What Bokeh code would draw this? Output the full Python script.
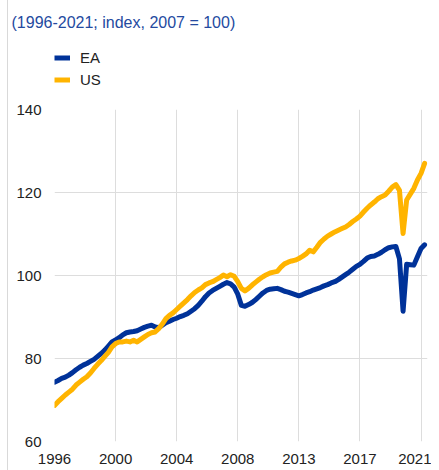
from bokeh.plotting import figure
from bokeh.layouts import column
from bokeh.models import FixedTicker, Legend, LegendItem, Title, Range1d
from bokeh.embed import file_html
from bokeh.resources import INLINE

# Quarterly, 1996Q1 - 2021Q4
quarters = [f"{y}Q{q}" for y in range(1996, 2022) for q in range(1, 5)]

ea = [74.3, 74.7, 75.2, 75.5, 76.0, 76.6, 77.3, 77.9, 78.4, 78.8,
      79.3, 79.8, 80.5, 81.2, 82.0, 83.0, 84.0, 84.5, 85.0, 85.7,
      86.2, 86.4, 86.5, 86.7, 87.1, 87.5, 87.8, 88.0, 87.6, 87.4,
      88.0, 88.6, 89.0, 89.4, 89.7, 90.1, 90.4, 90.8, 91.4, 92.0,
      92.8, 93.8, 94.9, 95.8, 96.4, 96.9, 97.4, 97.9, 98.3, 98.0,
      97.2, 95.5, 92.8, 92.6, 93.0, 93.5, 94.2, 95.0, 95.8, 96.4,
      96.7, 96.8, 96.9, 96.6, 96.2, 96.0, 95.7, 95.4, 95.1, 95.4,
      95.8, 96.1, 96.5, 96.8, 97.1, 97.5, 97.8, 98.2, 98.5, 99.0,
      99.6, 100.2, 100.8, 101.5, 102.2, 102.7, 103.4, 104.2, 104.6, 104.7,
      105.1, 105.6, 106.2, 106.7, 106.9, 107.0, 104.0, 91.4, 102.7, 102.6,
      102.5, 104.5, 106.5, 107.4]

us = [68.7, 69.6, 70.4, 71.2, 71.9, 72.6, 73.6, 74.3, 75.0, 75.6,
      76.5, 77.6, 78.6, 79.5, 80.5, 81.5, 82.8, 83.6, 84.0, 84.0,
      84.2, 84.0, 84.4, 84.0, 84.6, 85.2, 85.8, 86.2, 86.4, 87.2,
      88.3, 89.6, 90.4, 91.0, 91.8, 92.6, 93.4, 94.2, 95.1, 95.9,
      96.5, 97.0, 97.8, 98.2, 98.5, 99.0, 99.5, 100.1, 99.7, 100.2,
      99.8, 98.5, 96.9, 96.3, 96.9, 97.7, 98.4, 99.1, 99.7, 100.2,
      100.6, 100.8, 101.0, 102.0, 102.8, 103.2, 103.5, 103.7, 104.1, 104.6,
      105.2, 106.1, 105.7, 106.8, 108.0, 108.8, 109.5, 110.0, 110.5, 110.9,
      111.3, 111.7, 112.3, 113.0, 113.6, 114.3, 115.3, 116.2, 117.0, 117.7,
      118.5, 119.0, 119.4, 120.3, 121.3, 121.9, 120.5, 110.1, 118.2, 119.6,
      121.0, 123.0, 124.6, 127.0]

tick_quarters = ["1996Q1", "2000Q2", "2004Q3", "2008Q4", "2013Q1", "2017Q2", "2021Q3"]
tick_labels = ["1996", "2000", "2004", "2008", "2013", "2017", "2021"]
y_ticks = [60, 80, 100, 120, 140]

title_text = "(1996-2021; index, 2007 = 100)"
series_names = ["EA", "US"]
colors = ["#003299", "#ffb400"]

x = list(range(len(quarters)))
tick_pos = [quarters.index(q) for q in tick_quarters]

FONT = "Liberation Sans"
TXT = "#222222"

# ---- header figure: title + legend ----
head = figure(width=423, height=95, output_backend="svg", toolbar_location=None,
              x_axis_type=None, y_axis_type=None, title=None,
              x_range=Range1d(0, 1), y_range=Range1d(0, 1),
              min_border_left=46, min_border_right=4, min_border_top=0,
              min_border_bottom=0)
head.outline_line_color = None
head.xgrid.visible = False
head.ygrid.visible = False
head.add_layout(Title(text=title_text, text_font=FONT, text_font_size="16px",
                      text_font_style="normal", text_color="#244a9f",
                      align="left", offset=-43, standoff=4), "above")
# blank spacer above the title
head.add_layout(Title(text=" ", text_font_size="7px", standoff=0), "above")

# proxies (outside the header's view) so the legend can draw its swatches
h_ea = head.line(x, ea, line_color=colors[0], line_width=5)
h_us = head.line(x, us, line_color=colors[1], line_width=5)

legend = Legend(items=[LegendItem(label=series_names[0], renderers=[h_ea]),
                       LegendItem(label=series_names[1], renderers=[h_us])],
                location=(0, 7), orientation="vertical",
                label_text_font=FONT, label_text_font_size="15px",
                label_text_color=TXT,
                glyph_width=16, glyph_height=15, label_height=15,
                label_standoff=10, spacing=5, padding=0, margin=0,
                border_line_color=None, background_fill_alpha=0)
head.add_layout(legend, "center")

# ---- main chart ----
p = figure(width=423, height=375, output_backend="svg", toolbar_location=None,
           title=None,
           x_range=Range1d(0, 103.8), y_range=Range1d(60, 140),
           min_border_left=46, min_border_right=4, min_border_top=14,
           min_border_bottom=29)
p.outline_line_color = None

p.xaxis.ticker = FixedTicker(ticks=tick_pos)
p.xaxis.major_label_overrides = {t: l for t, l in zip(tick_pos, tick_labels)}
p.yaxis.ticker = FixedTicker(ticks=y_ticks)
for ax in (p.xaxis[0], p.yaxis[0]):
    ax.axis_line_color = None
    ax.major_tick_line_color = None
    ax.minor_tick_line_color = None
    ax.major_tick_out = 0
    ax.major_tick_in = 0
    ax.major_label_text_font = FONT
    ax.major_label_text_font_size = "15px"
    ax.major_label_text_color = TXT
p.xaxis.major_label_standoff = 12
p.yaxis.major_label_standoff = 13

p.xgrid.grid_line_color = "#dddddd"
p.ygrid.grid_line_color = "#dddddd"

p.line(x, ea, line_color=colors[0], line_width=5, line_join="round", line_cap="round")
p.line(x, us, line_color=colors[1], line_width=5, line_join="round", line_cap="round")

layout = column(head, p, spacing=0,
                styles={"margin-left": "7px", "border-left": "1px solid #d9d9d9"})

open("out.html", "w").write(file_html(layout, INLINE))
